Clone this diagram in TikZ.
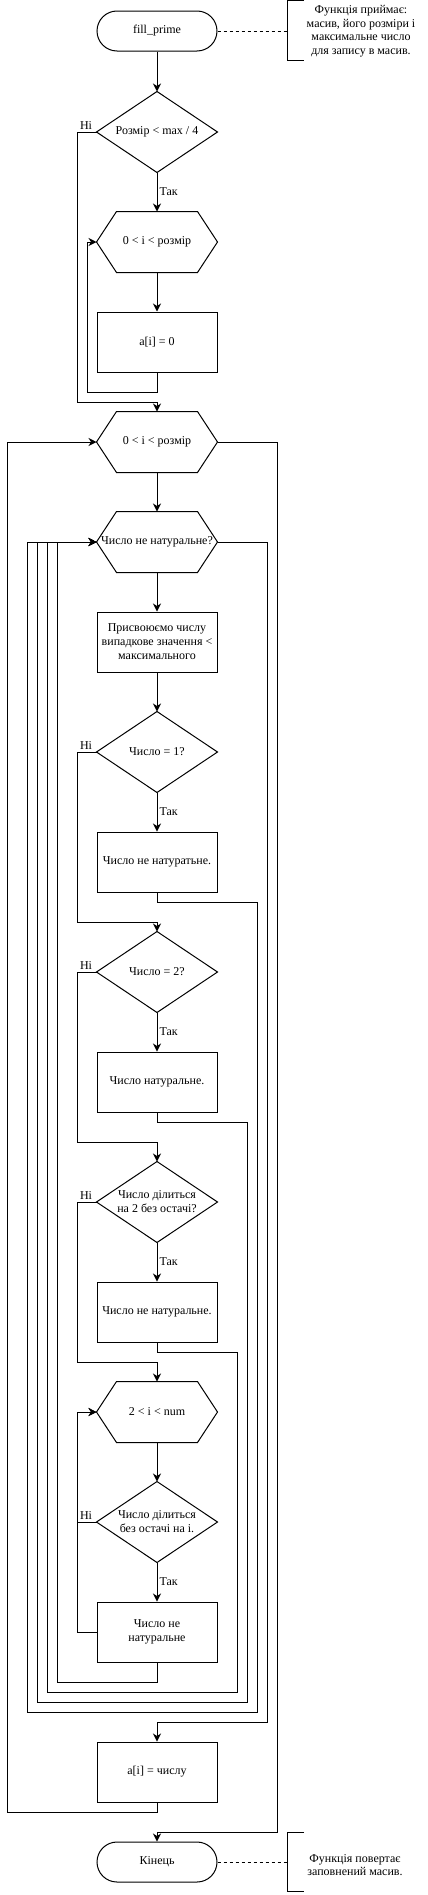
\documentclass[tikz,border=0pt]{standalone}
\usepackage{fontspec}
\setmainfont{Liberation Serif}
\usetikzlibrary{arrows.meta}
\begin{document}
\begin{tikzpicture}[x=1pt,y=-1pt,line width=1pt,
  every node/.style={font=\fontsize{12}{14}\selectfont},
  box/.style={draw, minimum width=120pt, minimum height=60pt, inner sep=1pt, align=center},
  term/.style={draw, rounded corners=20pt, minimum width=120pt, minimum height=40pt},
  dia/.style={minimum width=120pt, minimum height=80pt, inner sep=0pt, align=center},
  hex/.style={minimum width=120pt, minimum height=60pt, inner sep=0pt, align=center},
  note/.style={align=center, inner sep=0pt, font=\fontsize{12}{13.5}\selectfont},
  arr/.style={-{Stealth[length=8pt,width=8pt,inset=2.5pt]}},
  lbl/.style={font=\fontsize{12}{13}\selectfont, inner sep=1pt},
  dsh/.style={dash pattern=on 3pt off 3pt}]
\useasboundingbox (0,0) rectangle (428,1895);

% nodes
\node[term] (start) at (157,31) {fill\_prime};
\node[dia] (d1) at (157,132) {Розмір < max / 4};
\node[hex] (h1) at (157,242) {0 < i < розмір};
\node[box] (r1) at (157,342) {a[i] = 0};
\node[hex] (h2) at (157,442) {0 < i < розмір};
\node[hex] (h3) at (157,542) {Число не натуральне?};
\node[box] (r2) at (157,642) {Присвоюємо числу\\випадкове значення <\\максимального};
\node[dia] (d2) at (157,752) {Число = 1?};
\node[box] (r3) at (157,862) {Число не натуратьне.};
\node[dia] (d3) at (157,972) {Число = 2?};
\node[box] (r4) at (157,1082) {Число натуральне.};
\node[dia] (d4) at (157,1202) {Число ділиться\\на 2 без остачі?};
\node[box] (r5) at (157,1312) {Число не натуральне.};
\node[hex] (h4) at (157,1412) {2 < i < num};
\node[dia] (d5) at (157,1522) {Число ділиться\\без остачі на і.};
\node[box] (r6) at (157,1632) {Число не\\натуральне};
\node[box] (r7) at (157,1772) {a[i] = числу};
\node[term] (end) at (157,1862) {Кінець};

\node[note] (note1) at (361,31) {Функція приймає:\\масив, його розміри і\\максимальне число\\для запису в масив.};
\node[note] (note2) at (355,1865) {Функція повертає\\заповнений масив.};

% outlines of diamonds and hexagons
\foreach \n in {d1,d2,d3,d4,d5}
  \draw (\n.north) -- (\n.east) -- (\n.south) -- (\n.west) -- cycle;
\foreach \n in {h1,h2,h3,h4}
  \draw ([xshift=20pt]\n.north west) -- ([xshift=-20pt]\n.north east) -- (\n.east)
        -- ([xshift=-20pt]\n.south east) -- ([xshift=20pt]\n.south west) -- (\n.west) -- cycle;

% annotations
\coordinate (b1) at (287,31);
\coordinate (b2) at (287,1862);
\draw[dsh] (start.east) -- (b1);
\draw (304,0.5) -- (287,0.5) -- (287,60) -- (304,60);
\draw[dsh] (end.east) -- (b2);
\draw (304,1832) -- (287,1832) -- (287,1891) -- (304,1891);

% connectors
\draw[arr] (start.south) -- (d1.north);
\draw[arr] (d1.south) -- node[lbl, anchor=west, pos=0.5, xshift=1pt] {Так} (h1.north);
\draw[arr] (d1.west) -- (77,132) -- (77,402) -- (157,402) -- (h2.north);
\node[lbl, anchor=south east] at ([xshift=-3pt,yshift=1pt]d1.west) {Ні};
\draw[arr] (h1.south) -- (r1.north);
\draw[arr] (r1.south) -- (157,392) -- (87,392) -- (87,242) -- (h1.west);
\draw[arr] (h2.south) -- (h3.north);
\draw[arr] (h3.south) -- (r2.north);
\draw[arr] (r2.south) -- (d2.north);

\draw[arr] (d2.south) -- node[lbl, anchor=west, pos=0.5, xshift=1pt] {Так} (r3.north);
\draw[arr] (d2.west) -- (77,752) -- (77,922) -- (157,922) -- (d3.north);
\node[lbl, anchor=south east] at ([xshift=-3pt,yshift=1pt]d2.west) {Ні};
\draw[arr] (r3.south) -- (157,902) -- (257,902) -- (257,1712) -- (27,1712) -- (27,542) -- (h3.west);

\draw[arr] (d3.south) -- node[lbl, anchor=west, pos=0.5, xshift=1pt] {Так} (r4.north);
\draw[arr] (d3.west) -- (77,972) -- (77,1142) -- (157,1142) -- (d4.north);
\node[lbl, anchor=south east] at ([xshift=-3pt,yshift=1pt]d3.west) {Ні};
\draw[arr] (r4.south) -- (157,1122) -- (247,1122) -- (247,1702) -- (37,1702) -- (37,542) -- (h3.west);

\draw[arr] (d4.south) -- node[lbl, anchor=west, pos=0.5, xshift=1pt] {Так} (r5.north);
\draw[arr] (d4.west) -- (77,1202) -- (77,1362) -- (157,1362) -- (h4.north);
\node[lbl, anchor=south east] at ([xshift=-3pt,yshift=1pt]d4.west) {Ні};
\draw[arr] (r5.south) -- (157,1352) -- (237,1352) -- (237,1692) -- (47,1692) -- (47,542) -- (h3.west);

\draw[arr] (h4.south) -- (d5.north);
\draw[arr] (d5.south) -- node[lbl, anchor=west, pos=0.5, xshift=1pt] {Так} (r6.north);
\draw[arr] (d5.west) -- (77,1522) -- (77,1412) -- (h4.west);
\node[lbl, anchor=south east] at ([xshift=-3pt,yshift=1pt]d5.west) {Ні};
\draw[arr] (r6.west) -- (77,1632) -- (77,1412) -- (h4.west);
\draw[arr] (r6.south) -- (157,1682) -- (57,1682) -- (57,542) -- (h3.west);

\draw[arr] (h3.east) -- (267,542) -- (267,1722) -- (157,1722) -- (r7.north);
\draw[arr] (r7.south) -- (157,1812) -- (7,1812) -- (7,442) -- (h2.west);
\draw[arr] (h2.east) -- (277,442) -- (277,1832) -- (157,1832) -- (end.north);
\end{tikzpicture}
\end{document}
